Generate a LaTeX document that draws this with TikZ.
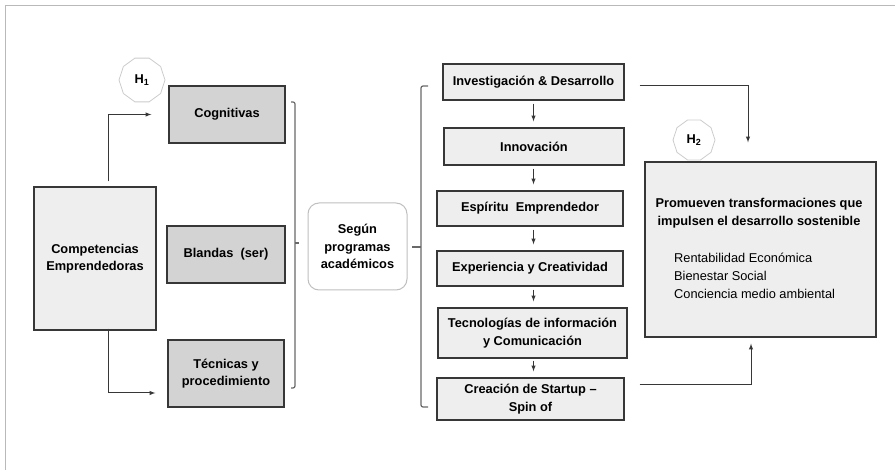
\documentclass[tikz,border=0pt]{standalone}
\usepackage{fontspec}
\setmainfont{Liberation Sans}
\usetikzlibrary{shapes.geometric, arrows}
\definecolor{boxdark}{RGB}{212,211,212}
\definecolor{boxlight}{RGB}{238,238,238}
\definecolor{edge}{RGB}{55,55,55}
\definecolor{brace}{RGB}{105,105,105}

\begin{document}
\begin{tikzpicture}[x=1pt, y=-1pt, >=latex,
  font=\fontsize{12.8}{17.5}\selectfont\bfseries,
  dbox/.style={draw=edge, line width=1.3pt, fill=boxdark, align=center, inner sep=0pt},
  lbox/.style={draw=edge, line width=1.3pt, fill=boxlight, align=center, inner sep=0pt},
  hyp/.style={regular polygon, regular polygon sides=10, draw=gray!40, line width=0.8pt,
    fill=white, inner sep=0pt},
  link/.style={draw=edge, line width=1pt, ->},
  brc/.style={draw=brace, line width=1.2pt, rounded corners=2pt}]
\useasboundingbox (0,0) rectangle (895,470);
\draw[gray!55, line width=1pt] (5,470) -- (5,6) -- (895,6);

\node[lbox, minimum width=122pt, minimum height=143pt] at (95,258.5) (c0)
{Competencias\\Emprendedoras};
\node[dbox, minimum width=116pt, minimum height=57pt] at (227,114.5) (c1)
{Cognitivas};
\node[dbox, minimum width=118pt, minimum height=57pt] at (226,254.5) (c2)
{Blandas\ \ (ser)};
\node[dbox, minimum width=116pt, minimum height=67pt] at (226,373.5) (c3)
{Técnicas y\\procedimiento};
\node[hyp, minimum size=46pt] at (142,80) (h1)
{H\textsubscript{1}};

\draw[link] ([xshift=13pt, yshift=5pt]c0.north) |- ([xshift=-17pt]c1.west);
\draw[link] ([xshift=13pt, yshift=2pt]c0.south) |- ([xshift=-12pt, yshift=-19.5pt]c3.west);

\draw[brc] (291,102) -- (295,102) -- (295,388) -- (291,388);
\draw[brc] (295,243) -- (299,243);

\node[draw=gray!50, line width=1pt, rounded corners=11pt, fill=white, align=center,
  minimum width=99pt, minimum height=87pt] at (357.5,246.5) (s0)
{Según\\programas\\académicos};

\draw[brc] (428,86) -- (421,86) -- (421,407) -- (428,407);
\draw[brc] (421,247) -- (412,247);

\node[lbox, minimum width=181pt, minimum height=36pt] at (533.5,82) (p1)
{Investigación \& Desarrollo};
\node[lbox, minimum width=180pt, minimum height=37pt] at (534,146.5) (p2)
{Innovación};
\node[lbox, minimum width=186pt, minimum height=35pt] at (530,208.5) (p3)
{Espíritu\ \ Emprendedor};
\node[lbox, minimum width=186pt, minimum height=35pt] at (530,268.5) (p4)
{Experiencia y Creatividad};
\node[lbox, minimum width=189pt, minimum height=50pt] at (532.5,333) (p5)
{Tecnologías de información\\y Comunicación};
\node[lbox, minimum width=187pt, minimum height=42pt] at (530.5,399) (p6)
{Creación de Startup –\\Spin of};

\draw[link, shorten <=3pt, shorten >=6pt] (p1.south) -- (p1.south |- p2.north);
\draw[link, shorten <=3pt, shorten >=6pt] (p1.south |- p2.south) -- (p1.south |- p3.north);
\draw[link, shorten <=3pt, shorten >=6pt] (p1.south |- p3.south) -- (p1.south |- p4.north);
\draw[link, shorten <=3pt, shorten >=6pt] (p1.south |- p4.south) -- (p1.south |- p5.north);
\draw[link, shorten <=2pt, shorten >=6pt] (p1.south |- p5.south) -- (p1.south |- p6.north);

\node[lbox, minimum width=231pt, minimum height=175pt] at (760.5,249.5) (r0) {};
\node[align=center] at (759,213) (r1)
{Promueven transformaciones que\\impulsen el desarrollo sostenible};
\node[anchor=west, align=left, inner sep=0pt, font=\fontsize{12.8}{18}\selectfont\mdseries]
  at (674,275.5) (r2)
{Rentabilidad Económica\\Bienestar Social\\Conciencia medio ambiental};
\node[hyp, minimum size=42pt] at (694,140) (h2)
{H\textsubscript{2}};

\draw[link] ([xshift=15pt, yshift=-4pt]p1.east) -| ([xshift=-12.5pt, yshift=19pt]r0.north);
\draw[link] ([xshift=15pt, yshift=14pt]p6.east) -| ([xshift=-9.5pt, yshift=-6pt]r0.south);
\end{tikzpicture}
\end{document}
